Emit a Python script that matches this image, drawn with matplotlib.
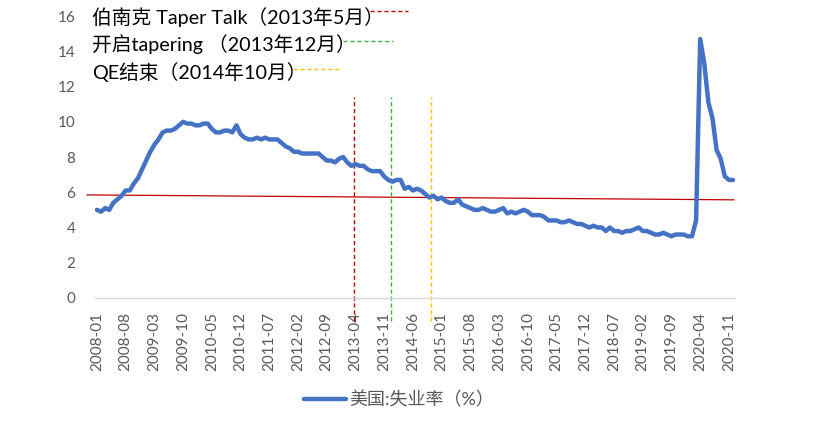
import numpy as np
import pandas as pd
import matplotlib
matplotlib.use('Agg')
import matplotlib.pyplot as plt

plt.rcParams['font.family'] = ['Lato', 'Noto Sans CJK SC', 'DejaVu Sans']

# monthly US unemployment rate, 2008-01 .. 2020-12
months = pd.date_range('2008-01', '2020-12', freq='MS').strftime('%Y-%m').tolist()
rate = [5.0, 4.9, 5.1, 5.0, 5.4, 5.6, 5.8, 6.1, 6.1, 6.5, 6.8, 7.3,
        7.8, 8.3, 8.7, 9.0, 9.4, 9.5, 9.5, 9.6, 9.8, 10.0, 9.9, 9.9,
        9.8, 9.8, 9.9, 9.9, 9.6, 9.4, 9.4, 9.5, 9.5, 9.4, 9.8, 9.3,
        9.1, 9.0, 9.0, 9.1, 9.0, 9.1, 9.0, 9.0, 9.0, 8.8, 8.6, 8.5,
        8.3, 8.3, 8.2, 8.2, 8.2, 8.2, 8.2, 8.0, 7.8, 7.8, 7.7, 7.9,
        8.0, 7.7, 7.5, 7.6, 7.5, 7.5, 7.3, 7.2, 7.2, 7.2, 6.9, 6.7,
        6.6, 6.7, 6.7, 6.2, 6.3, 6.1, 6.2, 6.1, 5.9, 5.7, 5.8, 5.6,
        5.7, 5.5, 5.4, 5.4, 5.6, 5.3, 5.2, 5.1, 5.0, 5.0, 5.1, 5.0,
        4.9, 4.9, 5.0, 5.1, 4.8, 4.9, 4.8, 4.9, 5.0, 4.9, 4.7, 4.7,
        4.7, 4.6, 4.4, 4.4, 4.4, 4.3, 4.3, 4.4, 4.3, 4.2, 4.2, 4.1,
        4.0, 4.1, 4.0, 4.0, 3.8, 4.0, 3.8, 3.8, 3.7, 3.8, 3.8, 3.9,
        4.0, 3.8, 3.8, 3.7, 3.6, 3.6, 3.7, 3.6, 3.5, 3.6, 3.6, 3.6,
        3.5, 3.5, 4.4, 14.7, 13.3, 11.1, 10.2, 8.4, 7.9, 6.9, 6.7, 6.7]

events = ['伯南克 Taper Talk（2013年5月）', '开启tapering （2013年12月）', 'QE结束（2014年10月）']
event_pos = [62.6, 71.6, 81.3]          # where the dashed markers were drawn
event_colors = ['#C00000', '#3CB043', '#FFC000']
ref_level = [5.85, 5.57]                # hand drawn red reference line (start, end)

fig = plt.figure(figsize=(8.25, 4.25), dpi=100)
ax = fig.add_axes([0.115, 0.299, 0.776, 0.663])

x = np.arange(len(months))
ax.plot(x, rate, color='#4472C4', lw=3.2, solid_joinstyle='round',
        solid_capstyle='round', label='美国:失业率（%）', zorder=3)

# red reference line
ax.plot([-2.4, 155.2], ref_level, color='#C00000', lw=0.9, clip_on=False, zorder=2)

# event markers
for pos, col in zip(event_pos, event_colors):
    ax.plot([pos, pos], [-1.3, 11.4], color=col, lw=1.0, ls=(0, (3, 2)),
            clip_on=False, zorder=2)

# annotation texts with short dashed keys
text_y = [15.97, 14.4, 12.85]
key_x = [(66.5, 75.8), (59.9, 72.1), (47.7, 59.2)]
key_y = [16.3, 14.6, 13.0]
for t, ty, kx, ky, col in zip(events, text_y, key_x, key_y, event_colors):
    ax.text(-1.2, ty, t, fontsize=14.2, ha='left', va='center', color='black',
            family=['Lato', 'Noto Sans CJK SC'], zorder=4)
    ax.plot(kx, [ky, ky], color=col, lw=1.0, ls=(0, (3, 2)), clip_on=False)

ax.set_xlim(-0.5, len(months) - 0.5)
ax.set_ylim(0, 16)
ax.set_yticks(np.arange(0, 17, 2))
ax.set_xticks(x[::7])
ax.set_xticklabels(months[::7], rotation=90, fontsize=11, color='#595959')
ax.tick_params(axis='y', length=0, pad=14, labelsize=11, labelcolor='#595959')
ax.tick_params(axis='x', length=0, pad=10)

for s in ['top', 'right', 'left']:
    ax.spines[s].set_visible(False)
ax.spines['bottom'].set_color('#D9D9D9')
ax.spines['bottom'].set_linewidth(1)

fig.legend(loc='center', bbox_to_anchor=(399 / 825, 1 - 400 / 425), frameon=False,
           handlelength=2.3, handletextpad=0.2,
           prop={'family': ['Lato', 'Noto Sans CJK SC'], 'size': 13},
           labelcolor='#595959')

fig.savefig('out.png', dpi=100)
